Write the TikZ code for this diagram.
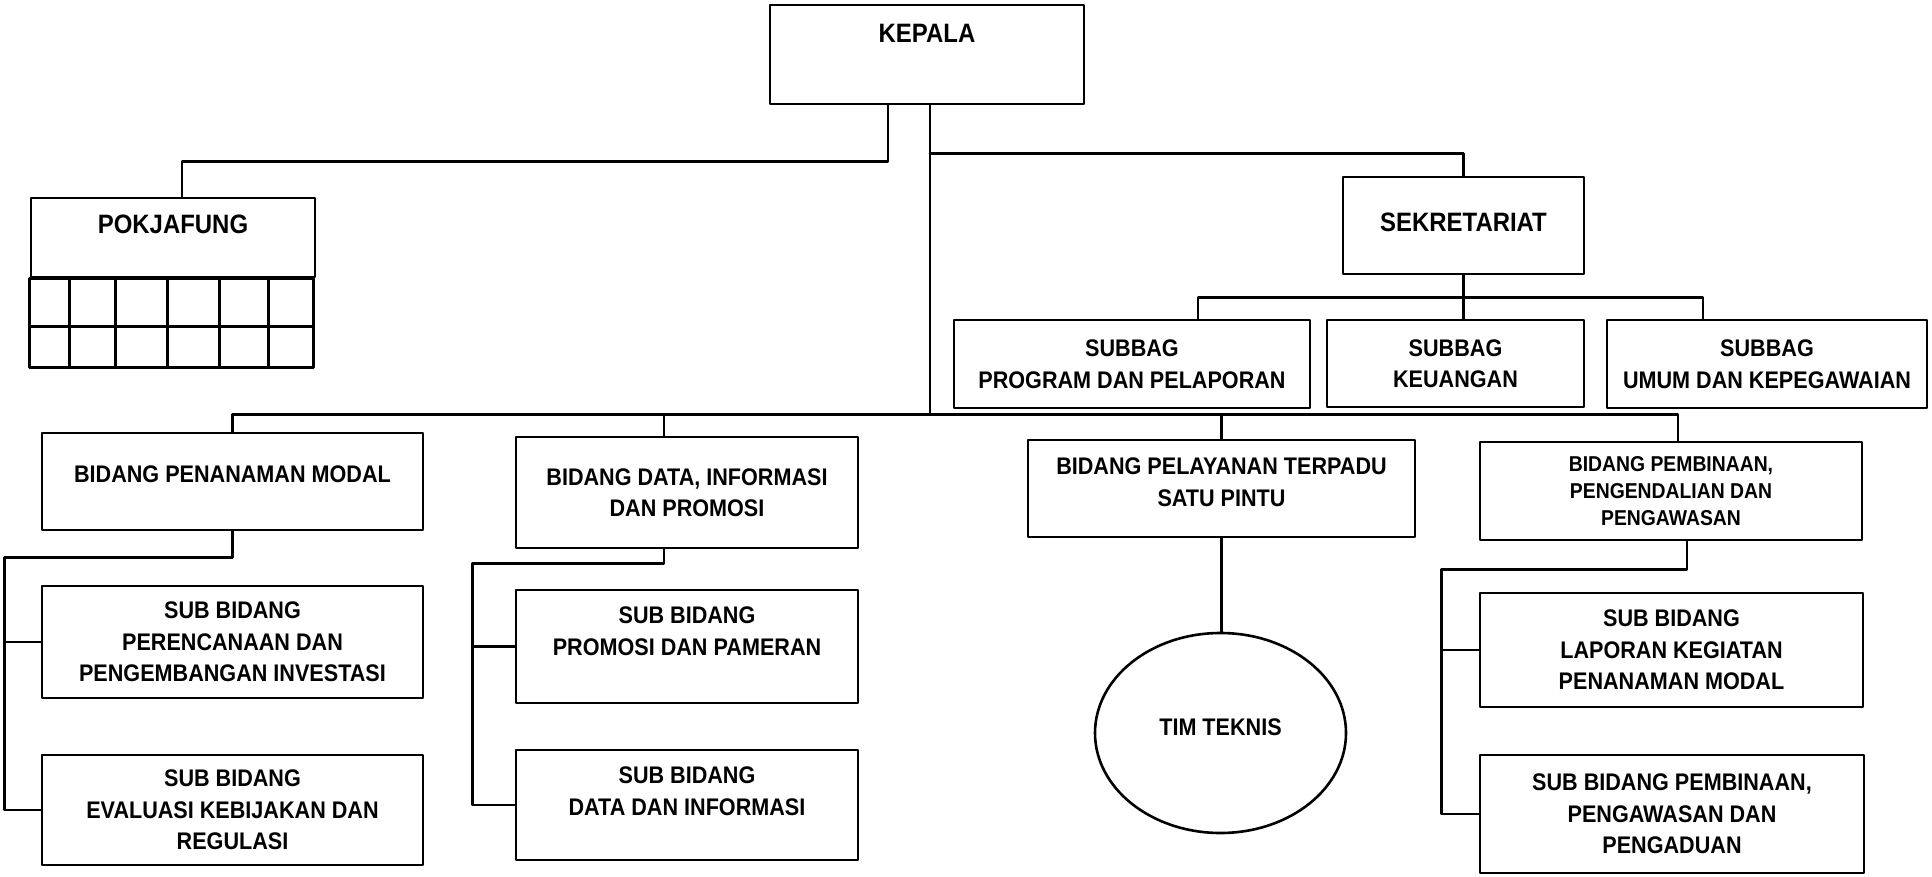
\documentclass[tikz,border=0pt]{standalone}
\usepackage{fontspec}
\setmainfont{Liberation Sans}[FakeStretch=0.9]
\usetikzlibrary{shapes.geometric}
\begin{document}
\begin{tikzpicture}[x=1pt, y=-1pt, line width=2.6pt, line join=round, line cap=round,
		unit/.style={draw, rectangle, inner sep=0pt, align=center, font=\bfseries\fontsize{24}{31.5}\selectfont},
		head/.style={unit, font=\bfseries\fontsize{26.6}{31.5}\selectfont},
		team/.style={unit, ellipse}]
	\useasboundingbox (0,0) rectangle (1932,877);
	\node[head, minimum width=314pt, minimum height=99pt, text depth=43pt] (kepala) at (927,54.5) {KEPALA};
	\node[head, minimum width=284pt, minimum height=79pt, text depth=27pt] (pok) at (173,237.5) {POKJAFUNG};
	\node[head, minimum width=241pt, minimum height=97pt, text depth=7pt] (sek) at (1463.5,225.5) {SEKRETARIAT};
	\node[unit, minimum width=356pt, minimum height=88pt] (prog) at (1132,364) {SUBBAG\\PROGRAM DAN PELAPORAN};
	\node[unit, minimum width=257pt, minimum height=87pt] (keu) at (1455.5,363.5) {SUBBAG\\KEUANGAN};
	\node[unit, minimum width=320pt, minimum height=88pt] (umum) at (1767,364) {SUBBAG\\UMUM DAN KEPEGAWAIAN};
	\node[unit, minimum width=381pt, minimum height=97pt, text depth=15pt] (bpm) at (232.5,481.5) {BIDANG PENANAMAN MODAL};
	\node[unit, minimum width=342pt, minimum height=111pt] (bdi) at (687,492.5) {BIDANG DATA, INFORMASI\\DAN PROMOSI};
	\node[unit, minimum width=387pt, minimum height=97pt, text depth=13pt] (bpt) at (1221.5,488.5) {BIDANG PELAYANAN TERPADU\\SATU PINTU};
	\node[unit, font=\bfseries\fontsize{21.5}{27}\selectfont, minimum width=382pt, minimum height=98pt] (bpp) at (1671,491) {BIDANG PEMBINAAN,\\PENGENDALIAN DAN\\PENGAWASAN};
	\node[unit, minimum width=381pt, minimum height=112pt] (pia) at (232.5,642) {SUB BIDANG\\PERENCANAAN DAN\\PENGEMBANGAN INVESTASI};
	\node[unit, minimum width=381pt, minimum height=110pt] (ekr) at (232.5,810) {SUB BIDANG\\EVALUASI KEBIJAKAN DAN\\REGULASI};
	\node[unit, minimum width=342pt, minimum height=113pt, text depth=31pt] (ppm) at (687,646.5) {SUB BIDANG\\PROMOSI DAN PAMERAN};
	\node[unit, minimum width=342pt, minimum height=110pt, text depth=28pt] (ddi) at (687,805) {SUB BIDANG\\DATA DAN INFORMASI};
	\node[team, minimum width=251pt, minimum height=200pt, text depth=12pt] (tim) at (1220.5,733) {TIM TEKNIS};
	\node[unit, minimum width=383pt, minimum height=114pt] (lkp) at (1671.5,650) {SUB BIDANG\\LAPORAN KEGIATAN\\PENANAMAN MODAL};
	\node[unit, minimum width=384pt, minimum height=118pt] (ppp) at (1672,814) {SUB BIDANG PEMBINAAN,\\PENGAWASAN DAN\\PENGADUAN};
	\draw (pok.south west) rectangle ++(284,89);
	\draw ([yshift=-48pt]pok.south west) -- ++(284,0);
	\foreach \col in {40,86,138,190,239}
		\draw ([xshift=\col pt]pok.south west) -- ++(0,89);
	\draw ([xshift=-39pt]kepala.south) -- ++(0,56) -| ([xshift=9pt]pok.north);
	\draw ([xshift=3pt]kepala.south) -- ++(0,309) coordinate (bus);
	\draw ([xshift=3pt]kepala.south) ++(0,48) -| (sek.north);
	\draw (sek.south) -- ++(0,22) coordinate (sekbus);
	\draw ([xshift=66pt]prog.north) |- (sekbus) -| ([xshift=-64pt]umum.north);
	\draw (sekbus) -- (sekbus |- keu.north);
	\draw (bpm.north) |- (bus) -| ([xshift=7pt]bpp.north);
	\draw ([xshift=-23pt]bdi.north) |- (bus);
	\draw (bpt.north) |- (bus);
	\draw (bpm.south) -- ++(0,26) -| ([xshift=-36pt]ekr.west) -- (ekr.west);
	\draw (pia.west) -- ++(-36,0);
	\draw ([xshift=-23pt]bdi.south) -- ++(0,14) -| ([xshift=-42pt]ddi.west) -- (ddi.west);
	\draw (ppm.west) -- ++(-42,0);
	\draw (bpt.south) -- (bpt.south |- tim.north);
	\draw ([xshift=16pt]bpp.south) -- ++(0,28) -| ([xshift=-37pt]ppp.west) -- (ppp.west);
	\draw (lkp.west) -- ++(-37,0);
\end{tikzpicture}
\end{document}
